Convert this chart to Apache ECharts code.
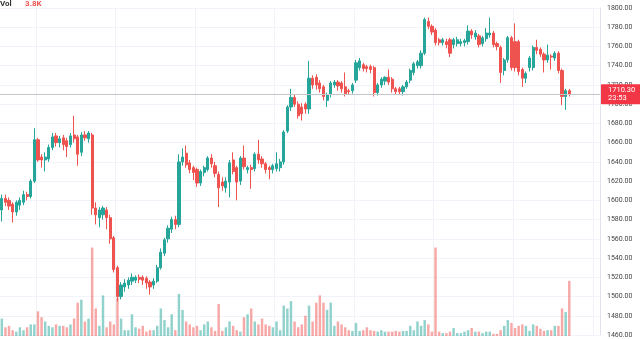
<!DOCTYPE html>
<html>
<head>
<meta charset="utf-8">
<script src="https://cdn.jsdelivr.net/npm/echarts@6/dist/echarts.min.js"></script>
<style>
  html, body { margin: 0; padding: 0; background: #fff; }
  #chart { width: 640px; height: 339px; }
</style>
</head>
<body>
<div id="chart"></div>
<script>
// Daily OHLC bars and volume (thousands)
const opens = [1590,1602,1600,1596,1588,1595,1598,1606,1604,1620,1663,1645,1642,1643,1655,1667,1660,1665,1662,1658,1668,1666,1650,1668,1664,1668,1592,1582,1585,1590,1582,1561,1530,1500,1510,1512,1516,1517,1520,1520,1519,1515,1512,1516,1530,1545,1560,1570,1580,1575,1640,1649,1639,1634,1632,1618,1629,1632,1644,1636,1627,1619,1613,1619,1642,1634,1620,1644,1632,1634,1633,1648,1643,1638,1634,1632,1633,1634,1640,1672,1697,1707,1700,1697,1700,1695,1727,1728,1722,1718,1704,1710,1720,1723,1722,1718,1714,1714,1725,1738,1741,1739,1739,1738,1712,1720,1724,1728,1726,1716,1716,1713,1718,1725,1733,1740,1740,1753,1786,1781,1777,1767,1764,1765,1767,1762,1763,1763,1764,1765,1776,1770,1771,1763,1768,1772,1774,1763,1759,1735,1746,1769,1765,1765,1736,1727,1738,1738,1759,1757,1752,1746,1750,1748,1753,1735,1708,1714];
const closes = [1602,1598,1594,1588,1598,1600,1606,1604,1620,1663,1642,1642,1645,1655,1666,1660,1664,1658,1656,1667,1664,1648,1668,1665,1670,1592,1585,1590,1592,1582,1560,1528,1500,1512,1514,1517,1520,1520,1518,1517,1514,1510,1516,1530,1546,1559,1571,1580,1575,1640,1645,1637,1632,1629,1618,1630,1634,1644,1638,1628,1613,1615,1620,1639,1630,1619,1644,1635,1634,1632,1648,1642,1638,1632,1632,1636,1638,1640,1671,1697,1707,1700,1688,1690,1695,1727,1720,1720,1716,1708,1710,1722,1723,1719,1716,1711,1713,1720,1743,1745,1737,1737,1736,1712,1720,1726,1728,1723,1716,1713,1713,1718,1723,1735,1742,1744,1753,1788,1781,1775,1764,1764,1767,1762,1753,1767,1767,1765,1766,1776,1772,1774,1762,1769,1774,1774,1762,1760,1733,1746,1769,1738,1738,1734,1727,1732,1748,1759,1756,1752,1746,1751,1749,1753,1735,1708,1714,1710.3];
const lows = [1578,1594,1590,1577,1584,1590,1595,1600,1602,1618,1640,1634,1630,1640,1652,1656,1655,1652,1645,1655,1660,1636,1646,1662,1660,1585,1575,1572,1580,1570,1555,1525,1495,1497,1505,1508,1512,1514,1514,1512,1508,1502,1508,1514,1528,1542,1556,1566,1570,1572,1636,1634,1628,1621,1614,1615,1625,1630,1634,1624,1593,1610,1608,1603,1627,1600,1616,1632,1628,1612,1630,1638,1634,1628,1622,1628,1630,1630,1637,1670,1693,1697,1685,1683,1690,1690,1716,1715,1712,1704,1697,1707,1717,1714,1712,1708,1710,1711,1722,1735,1734,1733,1732,1708,1709,1717,1720,1720,1712,1710,1710,1709,1716,1722,1730,1737,1737,1751,1778,1772,1761,1761,1761,1758,1749,1758,1760,1760,1760,1762,1768,1767,1759,1760,1765,1769,1759,1756,1722,1730,1743,1735,1734,1730,1718,1722,1734,1735,1752,1749,1733,1743,1736,1745,1732,1699,1694,1708];
const highs = [1606,1606,1603,1598,1600,1603,1610,1609,1622,1675,1665,1648,1650,1658,1670,1670,1667,1668,1665,1670,1688,1668,1671,1672,1672,1670,1598,1593,1594,1593,1585,1563,1532,1515,1518,1520,1524,1522,1523,1522,1521,1517,1519,1533,1550,1561,1574,1583,1584,1648,1654,1657,1642,1636,1634,1632,1636,1646,1648,1640,1630,1624,1624,1642,1650,1636,1646,1657,1636,1637,1650,1663,1646,1640,1636,1638,1650,1643,1673,1699,1716,1710,1703,1701,1702,1745,1730,1731,1725,1720,1712,1724,1725,1725,1724,1733,1716,1722,1746,1748,1743,1741,1741,1740,1722,1728,1729,1736,1728,1718,1718,1720,1725,1737,1744,1746,1756,1790,1790,1783,1779,1769,1769,1768,1769,1769,1770,1768,1768,1782,1778,1777,1773,1771,1779,1790,1776,1765,1761,1748,1771,1771,1784,1767,1738,1734,1750,1761,1767,1759,1754,1762,1752,1755,1755,1737,1716,1716];
const volumes = [1.2,0.6,0.7,0.4,0.3,0.6,0.4,0.6,0.8,0.8,1.7,1.3,1.0,0.7,0.6,0.8,0.7,0.7,0.6,0.8,1.2,2.3,2.5,1.0,1.2,6.1,1.9,0.7,2.8,0.6,1.0,0.8,2.6,1.2,0.4,0.4,1.5,0.6,0.5,0.7,0.3,0.4,0.4,0.7,1.9,1.1,0.6,1.5,0.4,2.9,1.8,1.0,0.8,0.6,0.7,0.4,0.8,1.0,0.6,0.35,2.2,0.35,0.6,1.0,0.7,0.4,0.3,1.3,1.5,1.9,1.0,0.8,1.2,0.8,0.7,0.6,1.0,0.4,2.1,1.9,2.4,1.0,0.6,0.8,1.4,2.1,1.0,2.3,2.8,2.3,1.8,2.3,0.7,1.0,0.8,0.6,0.4,0.35,0.9,0.35,0.4,0.6,0.4,0.35,0.3,0.4,0.3,0.3,0.3,0.35,0.3,0.35,0.35,0.7,0.4,1.0,0.7,1.1,0.8,0.3,6.1,0.3,0.2,0.2,0.3,0.55,0.2,0.2,0.3,0.4,0.55,0.3,0.3,0.2,0.3,0.3,0.15,0.15,0.4,0.7,1.1,0.9,0.55,0.7,0.8,0.7,0.35,0.8,0.7,0.5,0.35,0.4,0.4,0.7,0.7,1.9,1.65,3.8];
const priceMin = 1460, priceMax = 1800, priceStep = 20;
const countdown = '23:53';

const UP = '#26a69a', DOWN = '#ef5350';
const UP_VOL = 'rgba(38,166,154,0.5)', DOWN_VOL = 'rgba(239,83,80,0.5)';
const GRID = '#f0f3fa';
const FONT = 'Roboto, "Liberation Sans", sans-serif';

const n = opens.length;
const blankSlots = 8; // room to the right of the last bar
const cats = [];
for (let i = 0; i < n + blankSlots; i++) cats.push('d' + i);

const candleData = opens.map((o, i) => [o, closes[i], lows[i], highs[i]]);
const volData = volumes.map((v, i) => ({
  value: v,
  itemStyle: { color: closes[i] >= opens[i] ? UP_VOL : DOWN_VOL }
}));
const lastClose = closes[n - 1];
const lastVol = volumes[n - 1];
const fmtVol = v => v.toFixed(1) + 'K';

const chart = echarts.init(document.getElementById('chart'));
chart.setOption({
  animation: false,
  backgroundColor: '#ffffff',
  textStyle: { fontFamily: FONT },
  title: {
    left: 0, top: -5, padding: 0,
    text: '{a|Vol}   {b|' + fmtVol(lastVol) + '}',
    textStyle: {
      rich: {
        a: { fontSize: 8, color: '#333', fontFamily: FONT },
        b: { fontSize: 8, color: '#ef5350', fontFamily: FONT }
      }
    }
  },
  grid: [
    { left: 0, right: 40, top: 8, bottom: 4 },
    { left: 0, right: 40, top: 191, bottom: 3 }
  ],
  xAxis: [
    {
      type: 'category', data: cats, gridIndex: 0, boundaryGap: true,
      axisLine: { show: false }, axisTick: { show: false }, axisLabel: { show: false },
      splitLine: { show: true, interval: i => i % 22 === 10, lineStyle: { color: GRID, width: 1 } }
    },
    { type: 'category', data: cats, gridIndex: 1, boundaryGap: true, show: false }
  ],
  yAxis: [
    {
      type: 'value', gridIndex: 0, position: 'right',
      min: priceMin, max: priceMax, interval: priceStep,
      axisLine: { show: true, lineStyle: { color: '#e0e3eb' } },
      axisTick: { show: false },
      axisLabel: { formatter: v => v.toFixed(2), fontSize: 7, color: '#444', margin: 7, fontFamily: FONT },
      splitLine: { show: true, lineStyle: { color: GRID, width: 1 } }
    },
    { type: 'value', gridIndex: 1, min: 0, max: 10, show: false }
  ],
  series: [
    {
      type: 'candlestick', name: 'price',
      xAxisIndex: 0, yAxisIndex: 0,
      data: candleData,
      barWidth: '74%',
      itemStyle: { color: UP, color0: DOWN, borderColor: UP, borderColor0: DOWN, borderWidth: 1 },
      markLine: {
        silent: true, symbol: ['none', 'none'],
        lineStyle: { color: '#c4c6cc', type: 'solid', width: 1 },
        label: {
          show: true, position: 'end', distance: 1,
          formatter: () => lastClose.toFixed(2) + '\n' + countdown,
          backgroundColor: '#f23645', color: '#fff', fontSize: 7.5, lineHeight: 8,
          padding: [2, 7, 2, 7], borderRadius: 1, fontFamily: FONT
        },
        data: [{ yAxis: lastClose }]
      }
    },
    {
      type: 'bar', name: 'volume',
      xAxisIndex: 1, yAxisIndex: 1,
      data: volData,
      barWidth: '68%',
      markLine: {
        silent: true, symbol: ['none', 'none'],
        lineStyle: { opacity: 0 },
        label: {
          show: true, position: 'end', distance: 3,
          formatter: () => fmtVol(lastVol),
          backgroundColor: '#f23645', color: '#fff', fontSize: 7, lineHeight: 8,
          padding: [1, 3, 1, 3], borderRadius: 1, fontFamily: FONT
        },
        data: [{ yAxis: lastVol }]
      }
    }
  ]
});
</script>
</body>
</html>
